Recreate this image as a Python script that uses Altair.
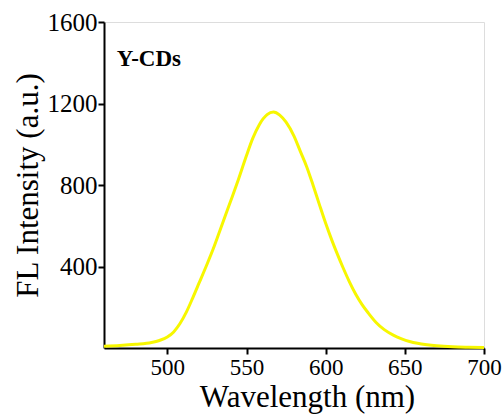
import altair as alt
import pandas as pd

wavelength = [460, 470, 480, 490, 495, 500, 504, 508, 512, 516, 520, 525, 529, 533, 537, 541, 545, 550, 554, 558, 563, 567,
              571, 575, 580, 584, 588, 592, 596, 600, 604, 607, 611, 615, 619, 623, 627, 632, 637, 643, 648, 653, 658, 664,
              670, 680, 690, 700]
intensity = [8, 12, 18, 27, 37, 54, 79, 120, 176, 245, 318, 410, 487, 572, 658, 742, 830, 945, 1030, 1095, 1145, 1158,
             1143, 1108, 1040, 965, 890, 800, 705, 612, 527, 468, 394, 325, 264, 213, 171, 124, 90, 62, 45, 32, 23, 16,
             11, 6, 4, 3]

label_text = ["Y-CDs"]
label_x = [468]
label_y = [1418]

df = pd.DataFrame({"wl": wavelength, "fl": intensity})
lab = pd.DataFrame({"t": label_text, "x": label_x, "y": label_y})

FONT = "Liberation Serif"

xscale = alt.Scale(domain=[460, 700], nice=False, zero=False)
yscale = alt.Scale(domain=[0, 1600], nice=False)

line = alt.Chart(df).mark_line(color="#f7f700", strokeWidth=3, interpolate="monotone").encode(
    x=alt.X("wl:Q", scale=xscale,
            axis=alt.Axis(title="Wavelength (nm)", values=[500, 550, 600, 650, 700], format="d",
                          titleFont=FONT, titleFontSize=31, titleFontWeight="normal", titleColor="black",
                          titleBaseline="alphabetic", titleY=58, titleX=203,
                          labelFont=FONT, labelFontSize=23, labelColor="black", labelPadding=2,
                          domainColor="black", domainWidth=2,
                          tickColor="black", tickWidth=2, tickSize=6, grid=False, labelFlush=False)),
    y=alt.Y("fl:Q", scale=yscale,
            axis=alt.Axis(title="FL Intensity (a.u.)", values=[400, 800, 1200, 1600], format="d",
                          titleFont=FONT, titleFontSize=31, titleFontWeight="normal", titleColor="black",
                          titleBaseline="alphabetic", titleX=-67,
                          labelFont=FONT, labelFontSize=25, labelColor="black", labelPadding=1,
                          domainColor="black", domainWidth=2,
                          tickColor="black", tickWidth=2, tickSize=6, grid=False, labelFlush=False)),
)

text = alt.Chart(lab).mark_text(font=FONT, fontSize=23, fontWeight="bold", color="black", align="left", baseline="middle").encode(
    x=alt.X("x:Q", scale=xscale),
    y=alt.Y("y:Q", scale=yscale),
    text="t:N",
)

chart = (line + text).properties(
    width=380, height=326,
    autosize=alt.AutoSizeParams(type="none"),
    padding={"left": 104, "top": 22, "right": 20, "bottom": 66},
).configure_view(stroke="black", strokeWidth=2).configure(background="white")

chart.save("out.html", embed_options={"renderer": "svg", "actions": False})
